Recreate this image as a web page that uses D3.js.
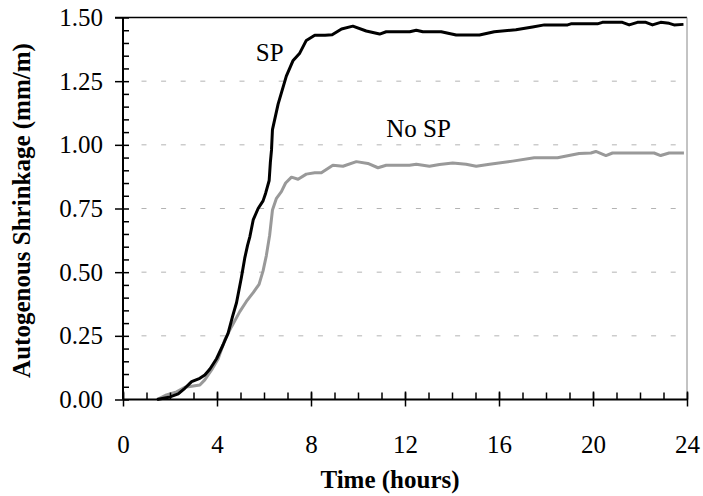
<!DOCTYPE html>
<html lang="en">
<head>
    <meta charset="UTF-8">
    <title>Autogenous Shrinkage</title>
    <script src="https://cdn.jsdelivr.net/npm/d3@7"></script>
    <style>
        body {
            margin: 0;
            background: #fff;
        }

        text {
            font-family: "Liberation Serif", "Times New Roman", serif;
            fill: #000;
        }

        .tick-label {
            font-size: 25px;
        }

        .axis-title {
            font-size: 25px;
            font-weight: bold;
        }

        .series-label {
            font-size: 25px;
        }
    </style>
</head>
<body>
<div id="chart"></div>

<script>
    const spTime = [1.45, 2.0, 2.35, 2.63, 2.92, 3.27, 3.48, 3.7, 3.98, 4.26, 4.47, 4.66, 4.83, 5.04, 5.18, 5.3,
        5.4, 5.54, 5.75, 5.96, 6.07, 6.22, 6.27, 6.32, 6.36, 6.6, 6.95, 7.23, 7.52, 7.8, 8.16, 8.6, 8.9, 9.3,
        9.78, 10.35, 10.92, 11.2, 12.2, 12.48, 12.76, 13.54, 14.18, 15.17, 15.8, 16.72, 17.43, 17.93, 18.92,
        19.06, 20.19, 20.4, 21.25, 21.54, 21.89, 22.25, 22.53, 22.88, 23.24, 23.45, 23.85];
    const spShrinkage = [0, 0.01, 0.022, 0.044, 0.07, 0.083, 0.096, 0.12, 0.16, 0.215, 0.26, 0.325, 0.38, 0.48,
        0.555, 0.605, 0.64, 0.705, 0.75, 0.78, 0.81, 0.86, 0.93, 0.98, 1.06, 1.16, 1.27, 1.33, 1.36, 1.41, 1.43,
        1.43, 1.432, 1.455, 1.466, 1.447, 1.435, 1.444, 1.444, 1.45, 1.444, 1.444, 1.431, 1.431, 1.444, 1.452,
        1.463, 1.471, 1.471, 1.475, 1.475, 1.481, 1.481, 1.471, 1.481, 1.481, 1.471, 1.481, 1.477, 1.471, 1.473];

    const noSpTime = [1.45, 1.85, 2.28, 2.63, 2.99, 3.27, 3.48, 3.77, 4.05, 4.33, 4.62, 4.97, 5.25, 5.54, 5.79,
        5.96, 6.1, 6.24, 6.36, 6.53, 6.74, 6.92, 7.17, 7.45, 7.8, 8.16, 8.44, 8.93, 9.36, 9.93, 10.42, 10.85,
        11.2, 12.19, 12.48, 13.04, 13.47, 14.03, 14.6, 15.03, 15.6, 16.58, 17.5, 18.49, 19.41, 19.91, 20.12,
        20.55, 20.83, 22.6, 22.88, 23.24, 23.87];
    const noSpShrinkage = [0, 0.018, 0.03, 0.048, 0.053, 0.057, 0.077, 0.116, 0.16, 0.234, 0.286, 0.345, 0.385,
        0.42, 0.452, 0.505, 0.565, 0.645, 0.744, 0.79, 0.816, 0.85, 0.873, 0.865, 0.885, 0.89, 0.89, 0.92,
        0.916, 0.934, 0.927, 0.91, 0.92, 0.92, 0.924, 0.916, 0.923, 0.929, 0.924, 0.916, 0.924, 0.936, 0.949,
        0.949, 0.966, 0.968, 0.974, 0.958, 0.968, 0.968, 0.958, 0.968, 0.968];

    const xTicks = [0, 4, 8, 12, 16, 20, 24];
    const yTicks = [0, 0.25, 0.5, 0.75, 1.0, 1.25, 1.5];
    const seriesNames = ["SP", "No SP"];
    const seriesColors = ["#000000", "#999999"];

    const width = 703;
    const height = 496;
    const PLOT_LEFT = 123;
    const PLOT_RIGHT = 687;
    const PLOT_TOP = 17.5;
    const PLOT_BOTTOM = 399.5;

    const svg = d3.select("#chart")
        .append("svg")
        .attr("width", width)
        .attr("height", height);

    const xScale = d3.scaleLinear()
        .domain([0, 24])
        .range([PLOT_LEFT, PLOT_RIGHT]);

    const yScale = d3.scaleLinear()
        .domain([0, 1.5])
        .range([PLOT_BOTTOM, PLOT_TOP]);

    // dashed gridlines (not at 0 or the top)
    svg.append("g")
        .selectAll("line")
        .data(yTicks.slice(1, -1))
        .enter()
        .append("line")
        .attr("x1", xScale(0) + 18.5)
        .attr("x2", xScale(24) - 2)
        .attr("y1", function (d) { return yScale(d); })
        .attr("y2", function (d) { return yScale(d); })
        .attr("stroke", "#b3b3b3")
        .attr("stroke-width", 1)
        .attr("stroke-dasharray", "5,14.6");

    // frame: top black, right grey
    svg.append("line")
        .attr("x1", xScale(0) - 8).attr("x2", xScale(24))
        .attr("y1", yScale(1.5)).attr("y2", yScale(1.5))
        .attr("stroke", "#000").attr("stroke-width", 1.5);
    svg.append("line")
        .attr("x1", xScale(24)).attr("x2", xScale(24))
        .attr("y1", yScale(1.5)).attr("y2", yScale(0))
        .attr("stroke", "#888").attr("stroke-width", 1);

    // curves
    const series = [
        { name: seriesNames[0], color: seriesColors[0], time: spTime, value: spShrinkage },
        { name: seriesNames[1], color: seriesColors[1], time: noSpTime, value: noSpShrinkage }
    ];

    const line = d3.line()
        .x(function (d) { return xScale(d[0]); })
        .y(function (d) { return yScale(d[1]); });

    svg.append("g")
        .selectAll("path")
        .data(series.slice().reverse())
        .enter()
        .append("path")
        .attr("fill", "none")
        .attr("stroke", function (d) { return d.color; })
        .attr("stroke-width", 3)
        .attr("stroke-linejoin", "round")
        .attr("d", function (d) {
            return line(d.time.map(function (t, i) { return [t, d.value[i]]; }));
        });

    // x axis: minor ticks inside every hour, major every 4 crossing the axis
    const xMinor = d3.axisBottom(xScale)
        .tickValues(d3.range(0, 25, 1))
        .tickSize(-7)
        .tickFormat("");
    const xMajor = d3.axisBottom(xScale)
        .tickValues(xTicks)
        .tickSize(7)
        .tickPadding(29)
        .tickFormat(function (d) { return d; });

    const xAxisMinor = svg.append("g")
        .attr("transform", "translate(0," + yScale(0) + ")")
        .call(xMinor);
    const xAxisMajor = svg.append("g")
        .attr("transform", "translate(0," + yScale(0) + ")")
        .call(xMajor);
    xAxisMajor.selectAll(".tick line").attr("y1", -8);

    // y axis: minor ticks inside every 0.05, major every 0.25 crossing
    const yMinor = d3.axisLeft(yScale)
        .tickValues(d3.range(0, 31).map(function (i) { return i * 0.05; }))
        .tickSize(-6)
        .tickFormat("");
    const yMajor = d3.axisLeft(yScale)
        .tickValues(yTicks)
        .tickSize(8)
        .tickPadding(12)
        .tickFormat(d3.format(".2f"));

    const yAxisMinor = svg.append("g")
        .attr("transform", "translate(" + xScale(0) + ",0)")
        .call(yMinor);
    const yAxisMajor = svg.append("g")
        .attr("transform", "translate(" + xScale(0) + ",0)")
        .call(yMajor);

    [xAxisMinor, xAxisMajor, yAxisMinor, yAxisMajor].forEach(function (g) {
        g.attr("font-family", null).attr("font-size", null);
        g.select(".domain").remove();
        g.selectAll(".tick line").attr("stroke", "#000").attr("stroke-width", 1.5);
        g.selectAll("text").attr("class", "tick-label");
    });

    // axis lines drawn on top
    svg.append("line")
        .attr("x1", xScale(0)).attr("x2", xScale(24))
        .attr("y1", yScale(0)).attr("y2", yScale(0))
        .attr("stroke", "#000").attr("stroke-width", 2);
    svg.append("line")
        .attr("x1", xScale(0)).attr("x2", xScale(0))
        .attr("y1", yScale(0)).attr("y2", yScale(1.5))
        .attr("stroke", "#000").attr("stroke-width", 2);

    // axis titles
    svg.append("text")
        .attr("class", "axis-title")
        .attr("x", 390)
        .attr("y", 488)
        .attr("text-anchor", "middle")
        .text("Time (hours)");

    svg.append("text")
        .attr("class", "axis-title")
        .attr("transform", "translate(30," + ((yScale(0) + yScale(1.5)) / 2 + 2) + ") rotate(-90)")
        .attr("text-anchor", "middle")
        .text("Autogenous Shrinkage (mm/m)");

    // series labels
    svg.append("text")
        .attr("class", "series-label")
        .attr("x", xScale(5.65))
        .attr("y", yScale(1.33))
        .text(seriesNames[0]);

    svg.append("text")
        .attr("class", "series-label")
        .attr("x", xScale(11.2))
        .attr("y", yScale(1.03))
        .text(seriesNames[1]);
</script>

</body>
</html>
